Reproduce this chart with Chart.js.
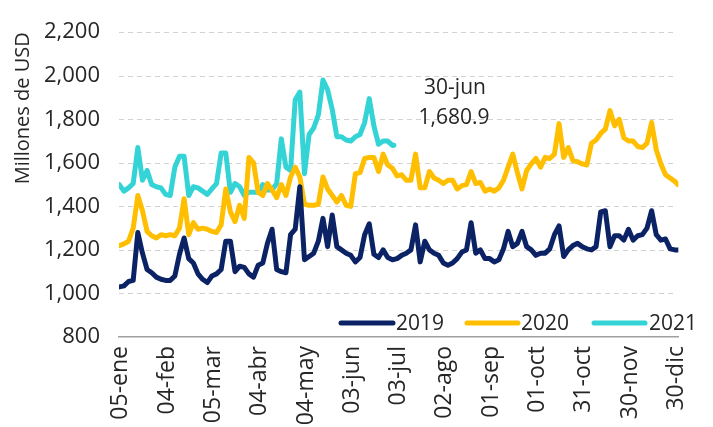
<!DOCTYPE html>
<html>
<head>
<meta charset="utf-8">
<script src="https://cdn.jsdelivr.net/npm/chart.js@4"></script>
<style>
  html, body { margin: 0; padding: 0; background: #ffffff; }
  #wrap { width: 713px; height: 427px; position: relative; }
</style>
</head>
<body>
<div id="wrap"><canvas id="c" width="713" height="427"></canvas></div>
<script>
// Day index relative to 05-ene (2020 calendar), sampled every 3 days
const days = [-1,2,5,8,11,14,17,20,23,26,29,32,35,38,41,44,47,50,53,56,59,62,65,68,71,74,77,80,83,86,89,
  92,95,98,101,104,107,110,113,116,119,122,125,128,131,134,137,140,143,146,149,152,155,158,161,164,167,170,173,176,179,
  182,185,188,191,194,197,200,203,206,209,212,215,218,221,224,227,230,233,236,239,242,245,248,251,254,257,260,263,266,269,
  272,275,278,281,284,287,290,293,296,299,302,305,308,311,314,317,320,323,326,329,332,335,338,341,344,347,350,353,356,359,361];

const tickDays = [0,30,60,90,120,150,180,210,240,270,300,330,360];
const tickLabels = ['05-ene','04-feb','05-mar','04-abr','04-may','03-jun','03-jul','02-ago','01-sep','01-oct','31-oct','30-nov','30-dic'];

const seriesNames = ['2019','2020','2021'];

const v2019 = [1030,1035,1055,1060,1280,1185,1110,1095,1075,1065,1060,1060,1080,1180,1255,1160,1140,1090,1065,1050,1080,1090,1110,1240,1240,1100,1125,1120,1090,1075,1130,
  1140,1230,1295,1110,1100,1095,1270,1295,1490,1155,1170,1185,1240,1345,1215,1360,1215,1200,1185,1175,1145,1165,1270,1320,1180,1165,1200,1165,1155,1160,
  1175,1185,1200,1315,1145,1240,1200,1185,1175,1140,1130,1140,1160,1190,1200,1325,1185,1200,1160,1160,1145,1155,1205,1285,1215,1230,1285,1215,1200,1175,
  1185,1185,1205,1270,1310,1170,1200,1220,1230,1215,1205,1200,1215,1375,1380,1215,1265,1265,1245,1295,1245,1265,1270,1300,1380,1270,1245,1250,1205,1200,1200];

const v2020 = [1220,1228,1240,1300,1450,1380,1285,1265,1255,1270,1265,1270,1265,1300,1435,1270,1325,1295,1300,1295,1285,1280,1315,1480,1375,1330,1405,1345,1625,1600,1465,
  1450,1505,1475,1440,1500,1450,1535,1580,1535,1410,1405,1405,1410,1535,1480,1450,1420,1450,1405,1400,1550,1555,1620,1625,1625,1560,1640,1590,1575,1540,
  1545,1520,1520,1640,1485,1485,1560,1530,1520,1505,1520,1520,1480,1495,1500,1560,1505,1510,1470,1480,1470,1485,1520,1580,1640,1555,1480,1565,1595,1620,
  1580,1625,1620,1640,1780,1625,1670,1610,1605,1595,1590,1690,1705,1735,1755,1840,1770,1800,1715,1700,1700,1675,1670,1690,1785,1660,1595,1545,1530,1515,1500];

const days2021 = days.slice(0, 60).concat([177]);
const v2021 = [1500,1470,1485,1505,1670,1520,1565,1500,1490,1485,1455,1450,1580,1630,1630,1450,1490,1485,1470,1455,1480,1505,1645,1645,1465,1505,1490,1450,1465,1465,1465,
  1500,1475,1475,1505,1710,1580,1565,1890,1925,1550,1730,1760,1820,1980,1935,1845,1720,1720,1705,1700,1720,1730,1785,1895,1770,1685,1700,1700,1680,1680.9];

const annotationLines = ['30-jun', '1,680.9'];

const COLORS = ['#0b2265', '#ffbf00', '#34d3d6'];
const FONT = "'Open Sans', 'Noto Sans', sans-serif";
const TEXT = '#262626';

function pts(xs, ys) { return ys.map((y, i) => ({ x: xs[i], y: y })); }

// dashed horizontal grid lines, placed through the y scale
const dashedGrid = {
  id: 'dashedGrid',
  beforeDatasetsDraw(chart) {
    const { ctx, chartArea, scales } = chart;
    const y = scales.y;
    ctx.save();
    ctx.strokeStyle = '#d2d2d2';
    ctx.lineWidth = 1;
    ctx.setLineDash([5, 4]);
    y.ticks.forEach(t => {
      if (t.value <= y.min) return;
      const py = Math.round(y.getPixelForValue(t.value)) + 0.5;
      ctx.beginPath();
      ctx.moveTo(chartArea.left, py);
      ctx.lineTo(chartArea.right - 3, py);
      ctx.stroke();
    });
    ctx.restore();
  }
};

const legendPlugin = {
  id: 'customLegendAndNote',
  afterDraw(chart) {
    const ctx = chart.ctx;
    ctx.save();
    const ly = 323;
    const items = [
      { x0: 341, x1: 393, tx: 396 },
      { x0: 467, x1: 518, tx: 521 },
      { x0: 594, x1: 645, tx: 649 }
    ];
    ctx.font = '21px ' + FONT;
    ctx.textBaseline = 'middle';
    ctx.textAlign = 'left';
    chart.data.datasets.forEach((ds, i) => {
      const it = items[i];
      ctx.strokeStyle = ds.borderColor;
      ctx.lineWidth = 5;
      ctx.lineCap = 'round';
      ctx.beginPath();
      ctx.moveTo(it.x0, ly);
      ctx.lineTo(it.x1, ly);
      ctx.stroke();
      ctx.fillStyle = TEXT;
      ctx.fillText(ds.label, it.tx, ly + 1);
    });
    ctx.textAlign = 'center';
    ctx.fillStyle = TEXT;
    ctx.font = '21px ' + FONT;
    ctx.fillText(annotationLines[0], 455, 88);
    ctx.fillText(annotationLines[1], 454, 118);
    ctx.restore();
  }
};

new Chart(document.getElementById('c'), {
  type: 'line',
  data: {
    datasets: [
      { label: seriesNames[0], data: pts(days, v2019), borderColor: COLORS[0] },
      { label: seriesNames[1], data: pts(days, v2020), borderColor: COLORS[1] },
      { label: seriesNames[2], data: pts(days2021, v2021), borderColor: COLORS[2] }
    ].map(d => Object.assign(d, {
      borderWidth: 5, pointRadius: 0, tension: 0, fill: false,
      borderJoinStyle: 'round', borderCapStyle: 'round'
    }))
  },
  options: {
    responsive: false,
    animation: false,
    layout: { padding: { top: 19, right: 25, left: 0, bottom: 0 } },
    plugins: { legend: { display: false }, tooltip: { enabled: false } },
    scales: {
      x: {
        type: 'linear',
        min: -1.2,
        max: 361.3,
        afterBuildTicks(scale) { scale.ticks = tickDays.map(v => ({ value: v })); },
        afterFit(scale) { scale.height = 90; },
        ticks: {
          autoSkip: false,
          maxRotation: 90, minRotation: 90,
          padding: 9,
          color: TEXT,
          font: { family: FONT, size: 23 },
          callback(value) { const i = tickDays.indexOf(value); return i >= 0 ? tickLabels[i] : ''; }
        },
        grid: { display: false, drawTicks: false },
        border: { display: true, color: '#a0a0a0', width: 1.5 }
      },
      y: {
        min: 800, max: 2200,
        afterFit(scale) { scale.width = 119; },
        ticks: {
          stepSize: 200,
          padding: 19,
          color: TEXT,
          font: { family: FONT, size: 22 },
          callback(v) { return v.toLocaleString('en-US'); }
        },
        grid: { display: false, drawTicks: false },
        border: { display: false },
        title: {
          display: true, text: 'Millones de USD', align: 'end',
          color: TEXT, font: { family: FONT, size: 20 },
          padding: { top: 11, bottom: 0 }
        }
      }
    }
  },
  plugins: [dashedGrid, legendPlugin]
});
</script>
</body>
</html>
